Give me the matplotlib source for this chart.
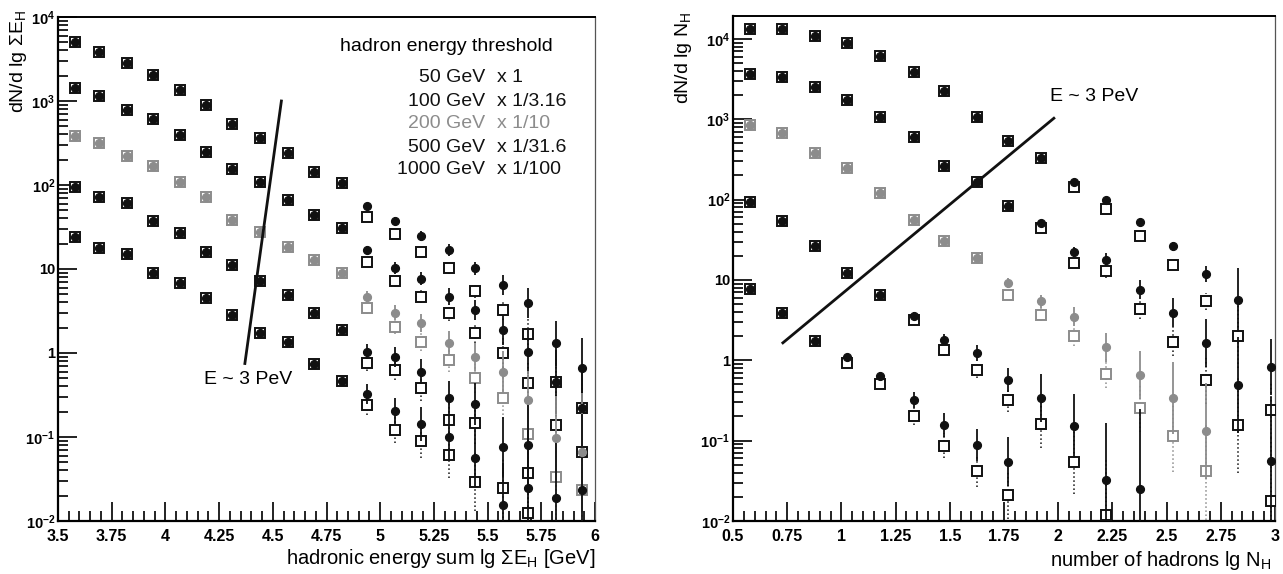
import numpy as np
import matplotlib
matplotlib.use("Agg")
import matplotlib.pyplot as plt
from matplotlib.ticker import FixedLocator, MultipleLocator, LogLocator, NullFormatter

plt.rcParams["font.family"] = ["Liberation Sans", "DejaVu Sans"]
plt.rcParams["mathtext.fontset"] = "custom"
plt.rcParams["mathtext.rm"] = "Liberation Sans"
plt.rcParams["mathtext.it"] = "Liberation Sans:italic"
plt.rcParams["mathtext.bf"] = "Liberation Sans:bold"

nan = np.nan

# ---- left panel: hadronic energy sum ----
x_left = [3.58, 3.69, 3.82, 3.94, 4.07, 4.19, 4.31, 4.44, 4.57, 4.69,
          4.82, 4.94, 5.07, 5.19, 5.32, 5.44, 5.57, 5.69, 5.82, 5.94]
# filled circles (one list per threshold)
left_c_50 = [5080, 3860, 2810, 2040, 1350, 895, 532, 360, 238, 144, 105, 56, 37, 25, 17, 10.2, 6.5, 3.9, 1.3, 0.66]
left_c_100 = [1416, 1148, 782, 611, 394, 249, 154, 109, 66, 44, 30.5, 16.8, 10.2, 7.7, 4.7, 3.25, 1.88, 1.03, 0.45, 0.22]
left_c_200 = [383, 313, 221, 168, 109, 72.6, 38.3, 27.8, 18.4, 12.8, 8.9, 4.7, 3.0, 2.26, 1.33, 0.90, 0.60, 0.275, 0.097, 0.066]
left_c_500 = [95.5, 71.4, 60.6, 37.3, 26.6, 16.1, 11.2, 7.1, 4.9, 3.03, 1.88, 1.03, 0.90, 0.60, 0.29, 0.25, 0.077, 0.080, 0.0188, 0.0234]
left_c_1000 = [24.3, 17.6, 15.0, 8.9, 6.8, 4.5, 2.83, 1.75, 1.36, 0.74, 0.46, 0.325, 0.204, 0.143, 0.101, 0.0557, 0.0155, 0.0245, nan, nan]
# open squares
left_s_50 = [5080, 3860, 2810, 2040, 1350, 895, 532, 360, 238, 144, 105, 42, 26, 16, 10.2, 5.4, 3.25, 1.7, 0.45, 0.22]
left_s_100 = [1416, 1148, 782, 611, 394, 249, 154, 109, 66, 44, 30.5, 12.2, 7.1, 4.7, 3.0, 1.72, 0.99, 0.435, 0.139, 0.066]
left_s_200 = [383, 313, 221, 168, 109, 72.6, 38.3, 27.8, 18.4, 12.8, 8.9, 3.4, 2.06, 1.36, 0.83, 0.50, 0.29, 0.11, 0.033, 0.0234]
left_s_500 = [95.5, 71.4, 60.6, 37.3, 26.6, 16.1, 11.2, 7.1, 4.9, 3.03, 1.88, 0.75, 0.63, 0.38, 0.16, 0.146, 0.0245, 0.037, nan, nan]
left_s_1000 = [24.3, 17.6, 15.0, 8.9, 6.8, 4.5, 2.83, 1.75, 1.36, 0.74, 0.46, 0.24, 0.121, 0.0895, 0.061, 0.0294, nan, 0.0124, nan, nan]
# error bar half length in decades
left_e_50 = [0] * 11 + [0.04, 0.05, 0.06, 0.07, 0.08, 0.12, 0.18, 0.27, 0.36]
left_e_100 = [0] * 11 + [0.05, 0.07, 0.08, 0.10, 0.12, 0.18, 0.26, 0.38, 0.50]
left_e_200 = [0] * 11 + [0.07, 0.09, 0.11, 0.14, 0.17, 0.25, 0.35, 0.50, 0.70]
left_e_500 = [0] * 11 + [0.09, 0.12, 0.15, 0.20, 0.25, 0.35, 0.50, 0.70, 0.90]
left_e_1000 = [0] * 11 + [0.12, 0.16, 0.20, 0.27, 0.35, 0.50, 0.70, 0.90, 1.20]
left_line_x = [4.37, 4.54]
left_line_y = [0.75, 1000]

# ---- right panel: number of hadrons ----
x_right = [0.58, 0.725, 0.88, 1.025, 1.18, 1.335, 1.475, 1.625, 1.77,
           1.92, 2.075, 2.22, 2.375, 2.53, 2.68, 2.83, 2.98]
right_c_50 = [13200, 13200, 10900, 9000, 6150, 3920, 2250, 1080, 538, 328, 166, 99.5, 52.2, 26.1, 11.9, 5.6, 0.83]
right_c_100 = [3670, 3340, 2510, 1740, 1080, 610, 261, 164, 83.7, 50.5, 22.1, 17.8, 7.6, 3.9, 1.64, 0.49, 0.056]
right_c_200 = [851, 671, 378, 247, 120, 56.1, 30.8, 18.9, 9.1, 5.4, 3.5, 1.45, 0.66, 0.34, 0.131, nan, nan]
right_c_500 = [94.7, 53.5, 26.1, 12.2, 6.5, 3.6, 1.80, 1.24, 0.57, 0.34, 0.151, 0.0327, 0.0251, nan, nan, nan, nan]
right_c_1000 = [7.7, 3.9, 1.72, 1.10, 0.63, 0.32, 0.158, 0.089, 0.055, nan, nan, nan, nan, nan, nan, nan, nan]
right_s_50 = [13200, 13200, 10900, 9000, 6150, 3920, 2250, 1080, 538, 328, 144, 75.7, 35.5, 15.5, 5.4, 2.0, 0.243]
right_s_100 = [3670, 3340, 2510, 1740, 1080, 610, 261, 164, 83.7, 44.3, 16.2, 12.8, 4.3, 1.70, 0.57, 0.158, 0.0179]
right_s_200 = [851, 671, 378, 247, 120, 56.1, 30.8, 18.9, 6.5, 3.7, 1.98, 0.68, 0.255, 0.115, 0.0415, nan, nan]
right_s_500 = [94.7, 53.5, 26.1, 12.2, 6.5, 3.2, 1.34, 0.76, 0.32, 0.163, 0.054, 0.0118, nan, nan, nan, nan, nan]
right_s_1000 = [7.7, 3.9, 1.72, 0.925, 0.50, 0.20, 0.087, 0.0415, 0.0213, nan, nan, nan, nan, nan, nan, nan, nan]
right_e_50 = [0] * 11 + [0.03, 0.04, 0.06, 0.10, 0.40, 0.35]
right_e_100 = [0] * 8 + [0.03, 0.04, 0.06, 0.08, 0.12, 0.18, 0.30, 0.60, 0.80]
right_e_200 = [0] * 7 + [0.04, 0.06, 0.08, 0.12, 0.18, 0.30, 0.45, 0.60, 0, 0]
right_e_500 = [0] * 5 + [0.05, 0.07, 0.10, 0.15, 0.30, 0.40, 0.70, 1.00, 0, 0, 0, 0]
right_e_1000 = [0] * 4 + [0.06, 0.10, 0.15, 0.20, 0.30] + [0] * 8
right_line_x = [0.73, 1.98]
right_line_y = [1.65, 1030]

thresholds = ["50 GeV", "100 GeV", "200 GeV", "500 GeV", "1000 GeV"]
scales = ["x 1", "x 1/3.16", "x 1/10", "x 1/31.6", "x 1/100"]
colors = ["#111111", "#111111", "#8c8c8c", "#111111", "#111111"]

left_xticks = [3.5, 3.75, 4, 4.25, 4.5, 4.75, 5, 5.25, 5.5, 5.75, 6]
left_xlabels = ["3.5", "3.75", "4", "4.25", "4.5", "4.75", "5", "5.25", "5.5", "5.75", "6"]
right_xticks = [0.5, 0.75, 1, 1.25, 1.5, 1.75, 2, 2.25, 2.5, 2.75, 3]
right_xlabels = ["0.5", "0.75", "1", "1.25", "1.5", "1.75", "2", "2.25", "2.5", "2.75", "3"]
yticks = [0.01, 0.1, 1, 10, 100, 1000, 10000]
ylabels = ["$\\mathbf{10^{-2}}$", "$\\mathbf{10^{-1}}$", "1", "10",
           "$\\mathbf{10^{2}}$", "$\\mathbf{10^{3}}$", "$\\mathbf{10^{4}}$"]


def draw(ax, x, circ, sq, err, color):
    c = np.array(circ, float)
    s = np.array(sq, float)
    f = 10 ** np.array(err, float)
    eb = ax.errorbar(x, s, yerr=[s - s / f, s * f - s], fmt="s", ms=6.5,
                     mfc="white", mec=color, mew=1.4, ecolor=color,
                     elinewidth=1.1, capsize=0, zorder=3)
    eb.lines[2][0].set_linestyle(":")
    ax.errorbar(x, c, yerr=[c - c / f, c * f - c], fmt="o", ms=5.6,
                mfc=color, mec=color, ecolor=color, elinewidth=1.3,
                capsize=0, zorder=4)


def style(ax, xlim, ylim, xticks, xlabels):
    ax.set_yscale("log")
    ax.set_xlim(*xlim)
    ax.set_ylim(*ylim)
    ax.xaxis.set_major_locator(FixedLocator(xticks))
    ax.set_xticklabels(xlabels, fontsize=11.5, fontweight="bold")
    ax.xaxis.set_minor_locator(MultipleLocator(0.05))
    ax.yaxis.set_major_locator(FixedLocator(yticks))
    ax.set_yticklabels(ylabels, fontsize=10.5, fontweight="bold")
    ax.yaxis.set_minor_locator(LogLocator(base=10, subs=range(2, 10), numticks=20))
    ax.yaxis.set_minor_formatter(NullFormatter())
    ax.tick_params(which="both", direction="in", top=False, right=False, width=1.3, color="#111111")
    ax.tick_params(which="major", length=14)
    ax.tick_params(which="minor", length=7)
    ax.tick_params(axis="x", pad=6)
    ax.tick_params(axis="y", pad=2)
    ax.spines["left"].set_linewidth(1.6)
    ax.spines["bottom"].set_linewidth(1.6)
    ax.spines["top"].set_linewidth(1.4)
    ax.spines["right"].set_linewidth(0.9)
    ax.spines["right"].set_color("#555555")


fig = plt.figure(figsize=(12.83, 5.74), dpi=100)
W, H = 1283.0, 574.0

axL = fig.add_axes([58 / W, (H - 521) / H, 537 / W, 504 / H])
style(axL, (3.5, 6), (0.01, 1e4), left_xticks, left_xlabels)
left_c = [left_c_50, left_c_100, left_c_200, left_c_500, left_c_1000]
left_s = [left_s_50, left_s_100, left_s_200, left_s_500, left_s_1000]
left_e = [left_e_50, left_e_100, left_e_200, left_e_500, left_e_1000]
for c, s, e, col in zip(left_c, left_s, left_e, colors):
    draw(axL, x_left, c, s, e, col)
axL.plot(left_line_x, left_line_y, color="#111111", lw=2, zorder=5)
axL.text(4.18, 0.48, "E ~ 3 PeV", fontsize=14, ha="left", va="center")

# threshold legend (axes fraction)
axL.text(0.7225, 0.941, "hadron energy threshold", transform=axL.transAxes,
         fontsize=14, ha="center", va="center")
rows_y = [78, 101, 124, 147, 170]
for lab, sc, col, py in zip(thresholds, scales, colors, rows_y):
    yy = (521 - py) / 504
    axL.text(0.795, yy, lab, transform=axL.transAxes, fontsize=14,
             ha="right", va="center", color=col)
    axL.text(0.8175, yy, sc, transform=axL.transAxes, fontsize=14,
             ha="left", va="center", color=col)

axR = fig.add_axes([733 / W, (H - 521) / H, 542 / W, 505 / H])
style(axR, (0.5, 3), (0.01, 1.93e4), right_xticks, right_xlabels)
right_c = [right_c_50, right_c_100, right_c_200, right_c_500, right_c_1000]
right_s = [right_s_50, right_s_100, right_s_200, right_s_500, right_s_1000]
right_e = [right_e_50, right_e_100, right_e_200, right_e_500, right_e_1000]
for c, s, e, col in zip(right_c, right_s, right_e, colors):
    draw(axR, x_right, c, s, e, col)
axR.plot(right_line_x, right_line_y, color="#111111", lw=2, zorder=5)
axR.text(1.962, 1910, "E ~ 3 PeV", fontsize=14, ha="left", va="center")

# axis titles
fig.text(19 / W, 1 - 10 / H, "dN/d lg ΣE$_{\\mathrm{H}}$", rotation=90,
         fontsize=14, ha="center", va="top")
fig.text(595 / W, 1 - 558 / H, "hadronic energy sum lg ΣE$_{\\mathrm{H}}$ [GeV]",
         fontsize=14.5, ha="right", va="center")
fig.text(684 / W, 1 - 12 / H, "dN/d lg N$_{\\mathrm{H}}$", rotation=90,
         fontsize=14, ha="center", va="top")
fig.text(1272 / W, 1 - 560 / H, "number of hadrons lg N$_{\\mathrm{H}}$",
         fontsize=14.5, ha="right", va="center")

fig.savefig("out.png", dpi=100)
